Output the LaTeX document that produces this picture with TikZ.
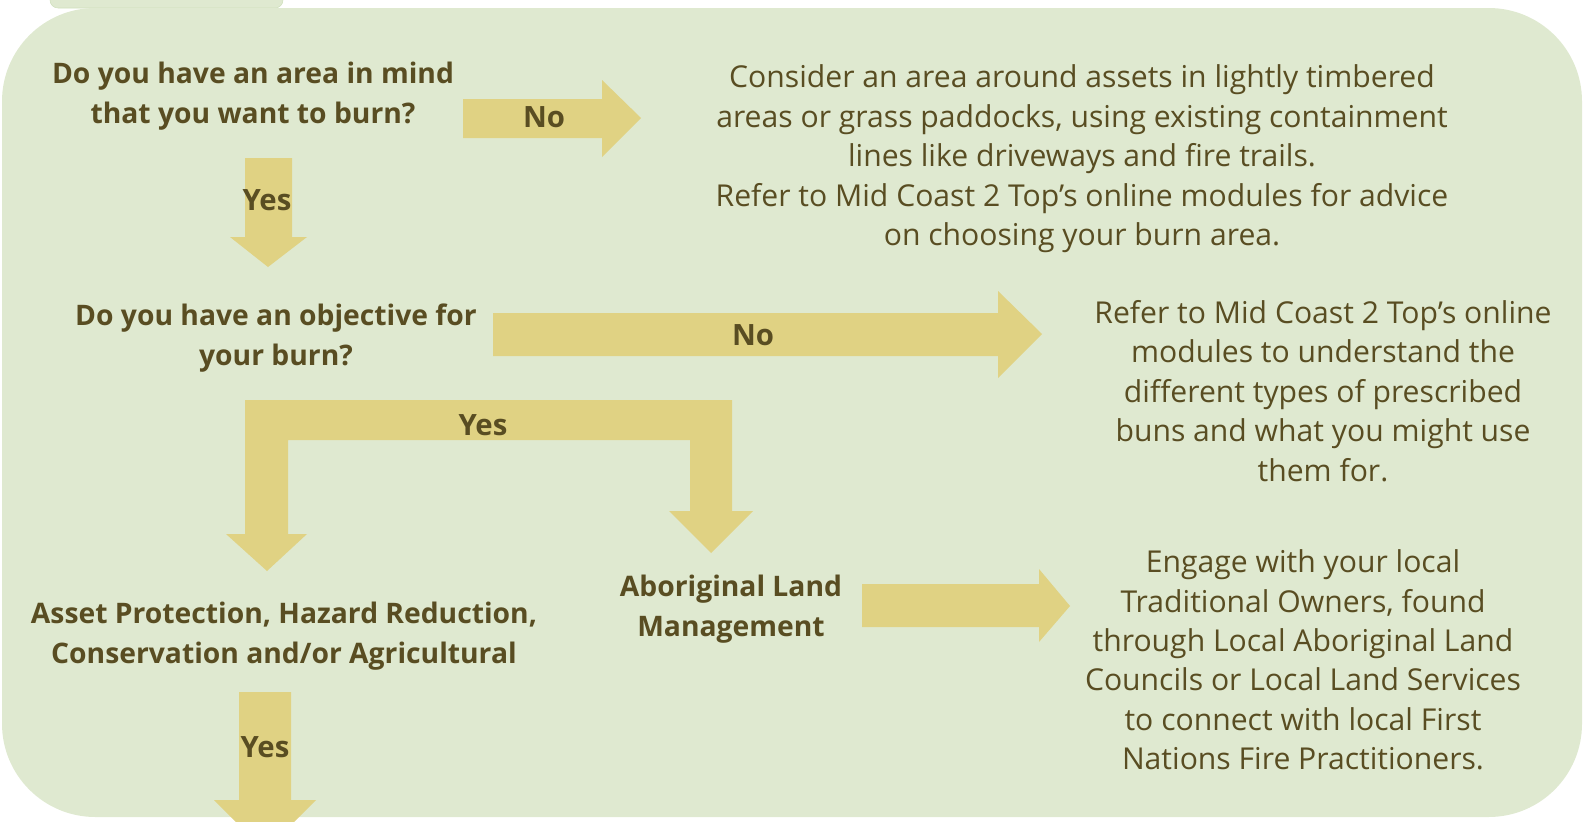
\documentclass[tikz,border=0pt]{standalone}
\usepackage{fontspec}
\setmainfont{Open Sans}
\definecolor{panelgreen}{HTML}{DFE9D0}
\definecolor{tabedge}{HTML}{CFE0BC}
\definecolor{arrowyellow}{HTML}{E0D283}
\definecolor{textbrown}{HTML}{594D22}

\begin{document}
\begin{tikzpicture}[x=0.75pt, y=-0.75pt,
  question/.style={font=\fontsize{21.2}{29.6}\selectfont\bfseries, text=textbrown,
    align=center, inner sep=0pt},
  advice/.style={font=\fontsize{22.6}{29.6}\selectfont, text=textbrown,
    align=center, inner sep=0pt},
  answer/.style={font=\fontsize{22}{24}\selectfont\bfseries, text=textbrown, inner sep=0pt},
  blockarrow/.style={fill=arrowyellow}]
  \useasboundingbox (0,0) rectangle (1588,821);
  \fill[panelgreen, draw=tabedge, rounded corners=6pt] (50,-10) rectangle (283,8);
  \fill[panelgreen, rounded corners=70pt] (2,8) rectangle (1582,817);

  \node[question] (area) at (253,96) {Do you have an area in mind\\that you want to burn?};
  \node[advice] (areatip) at (1082,159) {Consider an area around assets in lightly timbered\\areas or grass paddocks, using existing containment\\lines like driveways and fire trails.\\Refer to Mid Coast 2 Top’s online modules for advice\\on choosing your burn area.};
  \node[question] (objective) at (276,338) {Do you have an objective for\\your burn?};
  \node[advice] (objtip) at (1323,391) {Refer to Mid Coast 2 Top’s online\\modules to understand the\\different types of prescribed\\buns and what you might use\\them for.};
  \node[question] (asset) at (284,636) {Asset Protection, Hazard Reduction,\\Conservation and/or Agricultural};
  \node[question] (aboriginal) at (731,609) {Aboriginal Land\\Management};
  \node[advice] (engage) at (1303,660) {Engage with your local\\Traditional Owners, found\\through Local Aboriginal Land\\Councils or Local Land Services\\to connect with local First\\Nations Fire Practitioners.};

  \fill[blockarrow] (463,99) -- (602,99) -- (602,80) -- (641,118) -- (602,157)
    -- (602,138) -- (463,138) -- cycle;
  \node[answer] (areano) at (544,117) {No};

  \fill[blockarrow] (245,158) -- (292,158) -- (292,237) -- (307,237) -- (268,267)
    -- (230,237) -- (245,237) -- cycle;
  \node[answer] (areayes) at (267,200) {Yes};

  \fill[blockarrow] (493,313) -- (998,313) -- (998,291) -- (1042,334) -- (998,378)
    -- (998,356) -- (493,356) -- cycle;
  \node[answer] (objectiveno) at (753,335) {No};

  \fill[blockarrow] (245,400) -- (732,400) -- (732,511) -- (753,511) -- (711,553)
    -- (669,511) -- (690,511) -- (690,440) -- (288,440) -- (288,534) -- (307,534)
    -- (267,571) -- (226,534) -- (245,534) -- cycle;
  \node[answer] (objectiveyes) at (483,425) {Yes};

  \fill[blockarrow] (862,584) -- (1039,584) -- (1039,569) -- (1070,606) -- (1039,642)
    -- (1039,627) -- (862,627) -- cycle;

  \fill[blockarrow] (239,692) -- (291,692) -- (291,800) -- (316,800) -- (265,851)
    -- (214,800) -- (239,800) -- cycle;
  \node[answer] (assetyes) at (265,747) {Yes};
\end{tikzpicture}
\end{document}
